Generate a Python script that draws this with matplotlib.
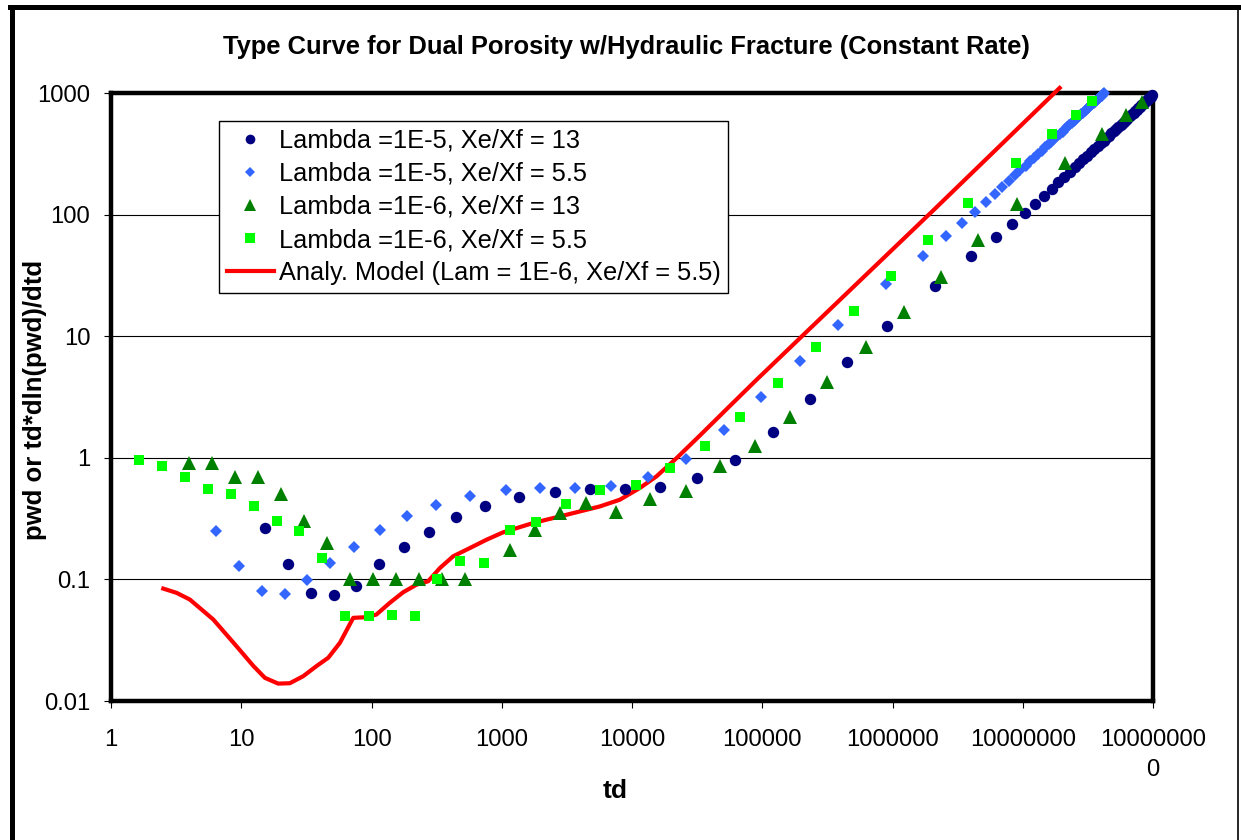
import matplotlib
matplotlib.use("Agg")
import matplotlib.pyplot as plt
from matplotlib.lines import Line2D
from matplotlib.ticker import NullLocator

plt.rcParams['font.family'] = ['Liberation Sans', 'DejaVu Sans']

# Lambda = 1E-5, Xe/Xf = 13
td_l5_13 = [15.3, 22.9, 34.5, 51.7, 76, 115, 177, 278, 444, 746, 1360, 2570, 4720,
            8760, 16300, 31600, 61800, 121000, 233000, 451000, 908000,
            2.11e6, 4.03e6, 6.19e6, 8.22e6, 1.04e7, 1.24e7, 1.46e7, 1.67e7, 1.88e7,
            2.09e7, 2.30e7, 2.51e7, 2.71e7, 2.92e7, 3.13e7, 3.34e7, 3.55e7, 3.76e7,
            3.96e7, 4.17e7, 4.38e7, 4.59e7, 4.80e7, 5.01e7, 5.21e7, 5.42e7, 5.63e7,
            5.84e7, 6.05e7, 6.26e7, 6.46e7, 6.67e7, 6.88e7, 7.09e7, 7.30e7, 7.51e7,
            7.71e7, 7.92e7, 8.13e7, 8.34e7, 8.55e7, 8.76e7, 8.96e7, 9.17e7, 9.38e7,
            9.59e7, 9.80e7]
pwd_l5_13 = [0.266, 0.133, 0.078, 0.074, 0.089, 0.133, 0.186, 0.247, 0.324, 0.40, 0.479,
             0.526, 0.55, 0.553, 0.578, 0.676, 0.96, 1.63, 3.05, 6.1, 12.2,
             26, 45.3, 65.2, 83.4, 103, 122, 143, 163, 184,
             204, 224, 245, 264, 285, 305, 325, 346, 366,
             386, 406, 427, 447, 468, 488, 507, 528, 548,
             569, 589, 610, 629, 650, 670, 690, 711, 731,
             751, 771, 792, 812, 833, 853, 873, 893, 913,
             934, 954]

# Lambda = 1E-5, Xe/Xf = 5.5
td_l5_55 = [6.4, 9.6, 14.5, 21.8, 32, 48, 74, 117, 186, 314, 573, 1075, 1970, 3680,
            6870, 13300, 26000, 51300, 98000, 196000, 382000, 887000,
            1.70e6, 2.59e6, 3.44e6, 4.32e6, 5.20e6, 6.08e6, 6.96e6, 7.84e6, 8.72e6,
            9.60e6, 1.05e7, 1.14e7, 1.22e7, 1.31e7, 1.40e7, 1.49e7, 1.58e7, 1.66e7,
            1.75e7, 1.84e7, 1.93e7, 2.02e7, 2.10e7, 2.19e7, 2.28e7, 2.37e7, 2.46e7,
            2.54e7, 2.63e7, 2.72e7, 2.81e7, 2.90e7, 2.98e7, 3.07e7, 3.16e7, 3.25e7,
            3.34e7, 3.42e7, 3.51e7, 3.60e7, 3.69e7, 3.78e7, 3.86e7, 3.95e7, 4.04e7,
            4.13e7, 4.22e7]
pwd_l5_55 = [0.252, 0.13, 0.081, 0.076, 0.098, 0.137, 0.186, 0.255, 0.33, 0.411, 0.488,
             0.543, 0.564, 0.567, 0.589, 0.689, 0.98, 1.68, 3.15, 6.26, 12.4, 26.7,
             46, 66.5, 85, 105, 126, 147, 168, 189, 210,
             231, 252, 274, 293, 314, 336, 357, 378, 397,
             418, 440, 461, 482, 501, 522, 543, 564, 585,
             604, 625, 646, 667, 688, 707, 728, 749, 770,
             791, 809, 830, 851, 872, 893, 911, 932, 953,
             974, 995]

# Lambda = 1E-6, Xe/Xf = 13
td_l6_13 = [3.97, 5.99, 8.95, 13.4, 20.2, 30.3, 45.5, 68, 102, 153, 230, 345, 518,
            1153, 1785, 2790, 4450, 7470, 13700, 25900, 47200, 87600, 164500,
            316000, 622000, 1.23e6, 2.36e6, 4.53e6, 9.09e6, 2.12e7, 4.03e7, 6.17e7, 8.22e7]
pwd_l6_13 = [0.90, 0.90, 0.70, 0.70, 0.50, 0.30, 0.20, 0.1, 0.1, 0.1, 0.1, 0.1, 0.1,
             0.176, 0.256, 0.352, 0.425, 0.358, 0.461, 0.532, 0.849, 1.26, 2.18,
             4.2, 8.1, 15.8, 30.8, 61.6, 123, 266, 463, 663, 849]

# Lambda = 1E-6, Xe/Xf = 5.5
td_l6_55 = [1.65, 2.48, 3.70, 5.52, 8.34, 12.5, 18.7, 28.0, 42, 63, 95, 143, 214, 318,
            477, 733, 1153, 1827, 3100, 5660, 10640, 19500, 36200, 68000, 131500,
            257600, 507000, 968000, 1.86e6, 3.78e6, 8.83e6, 1.68e7, 2.56e7, 3.40e7]
pwd_l6_55 = [0.96, 0.855, 0.70, 0.553, 0.50, 0.40, 0.30, 0.25, 0.151, 0.0504, 0.05,
             0.051, 0.05, 0.1, 0.141, 0.137, 0.253, 0.294, 0.417, 0.539, 0.597,
             0.823, 1.24, 2.17, 4.15, 8.2, 16.0, 31.0, 62, 125, 266, 463, 663, 858]

# analytical model (Lam = 1E-6, Xe/Xf = 5.5)
td_model = [2.52, 3.19, 4.03, 6.1, 9.2, 12.4, 15.2, 19.2, 23.6, 29.9, 37.9, 46.6,
            57.2, 72.4, 91.6, 109, 138, 175, 222, 272, 335, 424, 569, 764, 1026,
            1742, 3143, 5660, 8060, 11470, 15400, 21900, 33100, 53000, 90200,
            194000, 2.05e6, 1.92e7]
pwd_model = [0.084, 0.0775, 0.0683, 0.0468, 0.0282, 0.0194, 0.0155, 0.0139, 0.0140,
             0.016, 0.0194, 0.0227, 0.0301, 0.0483, 0.0489, 0.0514, 0.0641, 0.0784,
             0.0906, 0.0965, 0.124, 0.155, 0.181, 0.212, 0.244, 0.291, 0.34, 0.398,
             0.452, 0.564, 0.703, 0.99, 1.52, 2.50, 4.37, 9.6, 108, 1100]

x_ticks = [1, 10, 100, 1000, 1e4, 1e5, 1e6, 1e7, 1e8]
x_tick_labels = ["1", "10", "100", "1000", "10000", "100000", "1000000",
                 "10000000", "10000000\n0"]
y_ticks = [0.01, 0.1, 1, 10, 100, 1000]
y_tick_labels = ["0.01", "0.1", "1", "10", "100", "1000"]

W, H = 1241, 840
fig = plt.figure(figsize=(W / 100, H / 100), dpi=100)
ax = fig.add_axes([111 / W, 1 - 701 / H, (1153 - 111) / W, (701 - 93) / H])

ax.plot(td_model, pwd_model, color="#FF0000", lw=3.0, zorder=2, clip_on=False,
        label="Analy. Model (Lam = 1E-6, Xe/Xf = 5.5)")
ax.plot(td_l5_13, pwd_l5_13, ls="none", marker="o", ms=8.2, mew=0, color="#000080",
        zorder=3, clip_on=False, label="Lambda =1E-5, Xe/Xf = 13")
ax.plot(td_l5_55, pwd_l5_55, ls="none", marker="D", ms=6.0, mew=0, color="#3366FF",
        zorder=4, clip_on=False, label="Lambda =1E-5, Xe/Xf = 5.5")
ax.plot(td_l6_13, pwd_l6_13, ls="none", marker="^", ms=9.4, mew=0, color="#008000",
        zorder=5, clip_on=False, label="Lambda =1E-6, Xe/Xf = 13")
ax.plot(td_l6_55, pwd_l6_55, ls="none", marker="s", ms=7.8, mew=0, color="#00FF00",
        zorder=6, clip_on=False, label="Lambda =1E-6, Xe/Xf = 5.5")

ax.set_xscale("log")
ax.set_yscale("log")
ax.set_xlim(1, 1e8)
ax.set_ylim(0.01, 1000)
ax.set_xticks(x_ticks)
ax.set_xticklabels(x_tick_labels)
ax.set_yticks(y_ticks)
ax.set_yticklabels(y_tick_labels)
ax.xaxis.set_minor_locator(NullLocator())
ax.yaxis.set_minor_locator(NullLocator())
ax.tick_params(axis="both", direction="out", length=5, width=0.8, labelsize=17.2)
ax.tick_params(axis="x", pad=15)
ax.tick_params(axis="y", pad=10)
for lbl in ax.get_xticklabels():
    lbl.set_linespacing(1.5)

ax.yaxis.grid(True, color="black", lw=0.8)
ax.set_axisbelow(True)
for sp in ax.spines.values():
    sp.set_linewidth(3.2)
    sp.set_zorder(1)

handles, labels = ax.get_legend_handles_labels()
order = [1, 2, 3, 4, 0]
leg = ax.legend([handles[i] for i in order], [labels[i] for i in order],
                loc="upper left", bbox_to_anchor=(0.1037, 0.954), fontsize=18.3,
                frameon=True, fancybox=False, edgecolor="black", framealpha=1,
                borderaxespad=0, handlelength=1.85, handletextpad=0.2,
                labelspacing=0.36, borderpad=0.3, numpoints=1, markerscale=0.85)
leg.get_frame().set_linewidth(1.0)
leg.set_zorder(10)

fig.text(626 / W, 1 - 47 / H,
         "Type Curve for Dual Porosity w/Hydraulic Fracture (Constant Rate)",
         ha="center", va="center", fontsize=18.4, weight="bold")
fig.text(35 / W, 1 - 400 / H, "pwd or td*dln(pwd)/dtd", rotation=90,
         ha="center", va="center", fontsize=18.5, weight="bold")
fig.text(615 / W, 1 - 791 / H, "td", ha="center", va="center",
         fontsize=19, weight="bold")

# chart area border
fig.add_artist(Line2D([12 / W, 12 / W], [0, 1 - 6.5 / H], transform=fig.transFigure,
                      color="black", lw=3.6))
fig.add_artist(Line2D([10 / W, 1238 / W], [1 - 6.5 / H, 1 - 6.5 / H],
                      transform=fig.transFigure, color="black", lw=3.6))
fig.add_artist(Line2D([1238 / W, 1238 / W], [0, 1 - 6.5 / H], transform=fig.transFigure,
                      color="black", lw=1.2))

fig.savefig("out.png", dpi=100)
